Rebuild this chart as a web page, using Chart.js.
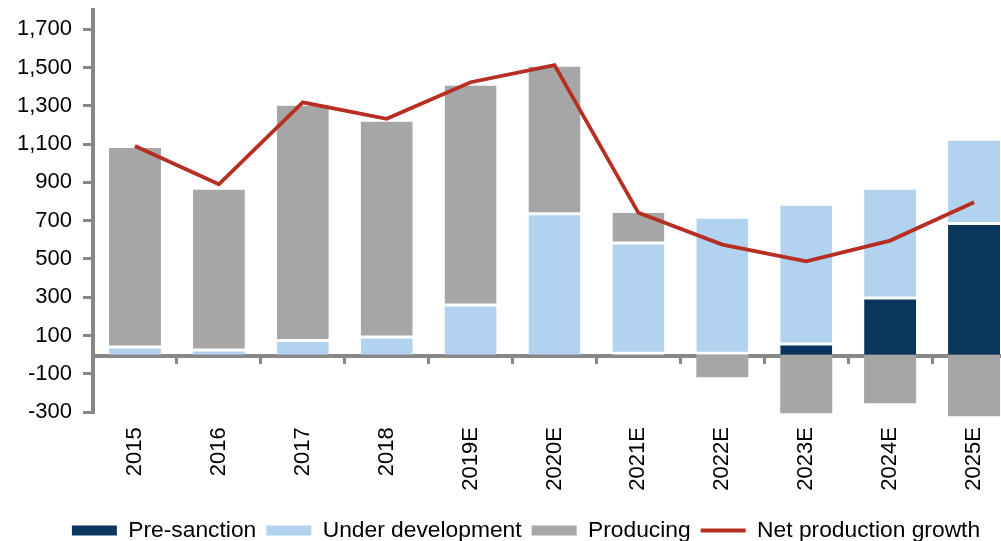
<!DOCTYPE html>
<html>
<head>
<meta charset="utf-8">
<script src="https://cdn.jsdelivr.net/npm/chart.js@4.4.1/dist/chart.umd.min.js"></script>
<style>
html,body{margin:0;padding:0;background:#fff;overflow:hidden;width:1001px;height:541px;}
#wrap{position:absolute;left:0;top:0;width:1016px;height:552px;}
</style>
</head>
<body>
<div id="wrap"><canvas id="c" width="1016" height="552"></canvas></div>
<script>
// ---- data ----
const categories = ['2015','2016','2017','2018','2019E','2020E','2021E','2022E','2023E','2024E','2025E'];
const preSanction = [null, null, null, null, null, null, 0, 0, 56, 296, 685];
const underDevelopment = [40, 25, 74, 92, 260, 736, 583, 711, 723, 567, 433];
const producing = [1040, 838, 1227, 1126, 1146, 769, 159, -117, -305, -253, -321];
const netProductionGrowth = [1090, 890, 1318, 1232, 1423, 1512, 741, 575, 488, 596, 796];
const yTickValues = [-300, -100, 100, 300, 500, 700, 900, 1100, 1300, 1500, 1700];
const yMin = -300, yMax = 1800;

// ---- styles ----
const NAVY = '#0A365E', LIGHT = '#B1D3EF', GREY = '#A6A6A6', RED = '#B72F23', AXIS = '#878787';
const GAP = 1.5;
Chart.defaults.font.family = '"Liberation Sans", Arial, sans-serif';
Chart.defaults.font.size = 22;
Chart.defaults.color = '#000';

function bwPre(ctx){
  const i = ctx.dataIndex;
  const above = underDevelopment[i] > 0 || producing[i] > 0;
  return {top: above ? GAP : 0, bottom: 0, left: 0, right: 0};
}
function bwUnder(ctx){
  const i = ctx.dataIndex;
  const p = preSanction[i];
  const bottom = p === 0 ? 2 * GAP : (p > 0 ? GAP : 0);
  const top = producing[i] > 0 ? GAP : 0;
  return {top, bottom, left: 0, right: 0};
}
function bwProd(ctx){
  const i = ctx.dataIndex;
  const v = producing[i];
  const below = v > 0 && (underDevelopment[i] > 0 || preSanction[i] > 0);
  return {top: 0, bottom: below ? GAP : 0, left: 0, right: 0};
}

const fmt = new Intl.NumberFormat('en-US');

// shift the legend row to the right (the plot runs past the right edge of the picture)
const legendShift = {
  id: 'legendShift',
  afterLayout(chart){
    const l = chart.legend;
    if (l) { l.left += 18; l.right += 18; }
  }
};

new Chart(document.getElementById('c'), {
  type: 'bar',
  plugins: [legendShift],
  data: {
    labels: categories,
    datasets: [
      {label: 'Pre-sanction', data: preSanction, backgroundColor: NAVY, borderColor: '#fff',
       borderWidth: bwPre, borderSkipped: false, stack: 's', barPercentage: 0.62, categoryPercentage: 1, clip: false},
      {label: 'Under development', data: underDevelopment, backgroundColor: LIGHT, borderColor: '#fff',
       borderWidth: bwUnder, borderSkipped: false, stack: 's', barPercentage: 0.62, categoryPercentage: 1, clip: false},
      {label: 'Producing', data: producing, backgroundColor: GREY, borderColor: '#fff',
       borderWidth: bwProd, borderSkipped: false, stack: 's', barPercentage: 0.62, categoryPercentage: 1, clip: false},
      {type: 'line', label: 'Net production growth', data: netProductionGrowth, borderColor: RED,
       backgroundColor: RED, borderWidth: 3.8, pointRadius: 0, tension: 0, stack: 'net', order: -1}
    ]
  },
  options: {
    responsive: false,
    devicePixelRatio: 1,
    animation: false,
    layout: {padding: {left: 0, right: 0, top: 10, bottom: 0}},
    plugins: {
      tooltip: {enabled: false},
      legend: {
        position: 'bottom',
        labels: {
          usePointStyle: true, pointStyleWidth: 45, boxHeight: 10, padding: 10,
          color: '#000', font: {size: 22.8},
          generateLabels(chart){
            const items = Chart.defaults.plugins.legend.labels.generateLabels(chart);
            items.forEach(it => {
              const ds = chart.data.datasets[it.datasetIndex];
              if (ds.type === 'line') {
                it.pointStyle = 'line'; it.lineWidth = 4; it.strokeStyle = RED; it.fillStyle = RED;
              } else {
                it.pointStyle = 'rect'; it.lineWidth = 0; it.fillStyle = ds.backgroundColor; it.strokeStyle = ds.backgroundColor;
              }
            });
            return items.sort((a, b) => a.datasetIndex - b.datasetIndex);
          }
        }
      }
    },
    scales: {
      x: {
        stacked: true,
        grid: {display: false, drawTicks: false},
        border: {display: false},
        ticks: {minRotation: 90, maxRotation: 90, autoSkip: false, padding: 15, color: '#000', font: {size: 22}},
        afterFit: s => { s.height = 97; }
      },
      x2: {
        type: 'category', labels: categories, position: {y: -9}, offset: true,
        grid: {offset: true, drawOnChartArea: false, drawTicks: true, tickLength: 6, lineWidth: 3, color: AXIS},
        border: {display: true, width: 4, color: AXIS},
        ticks: {display: false}
      },
      y: {
        stacked: true, min: yMin, max: yMax,
        afterBuildTicks: s => { s.ticks = yTickValues.map(v => ({value: v})); },
        afterFit: s => { s.width = 93; s.paddingTop = 0; s.paddingBottom = 0; },
        ticks: {callback: v => fmt.format(v), padding: 11, color: '#000', font: {size: 22}},
        grid: {drawOnChartArea: false, drawTicks: true, tickLength: 10, lineWidth: 3, color: AXIS},
        border: {display: true, width: 4, color: AXIS}
      }
    }
  }
});
</script>
</body>
</html>
